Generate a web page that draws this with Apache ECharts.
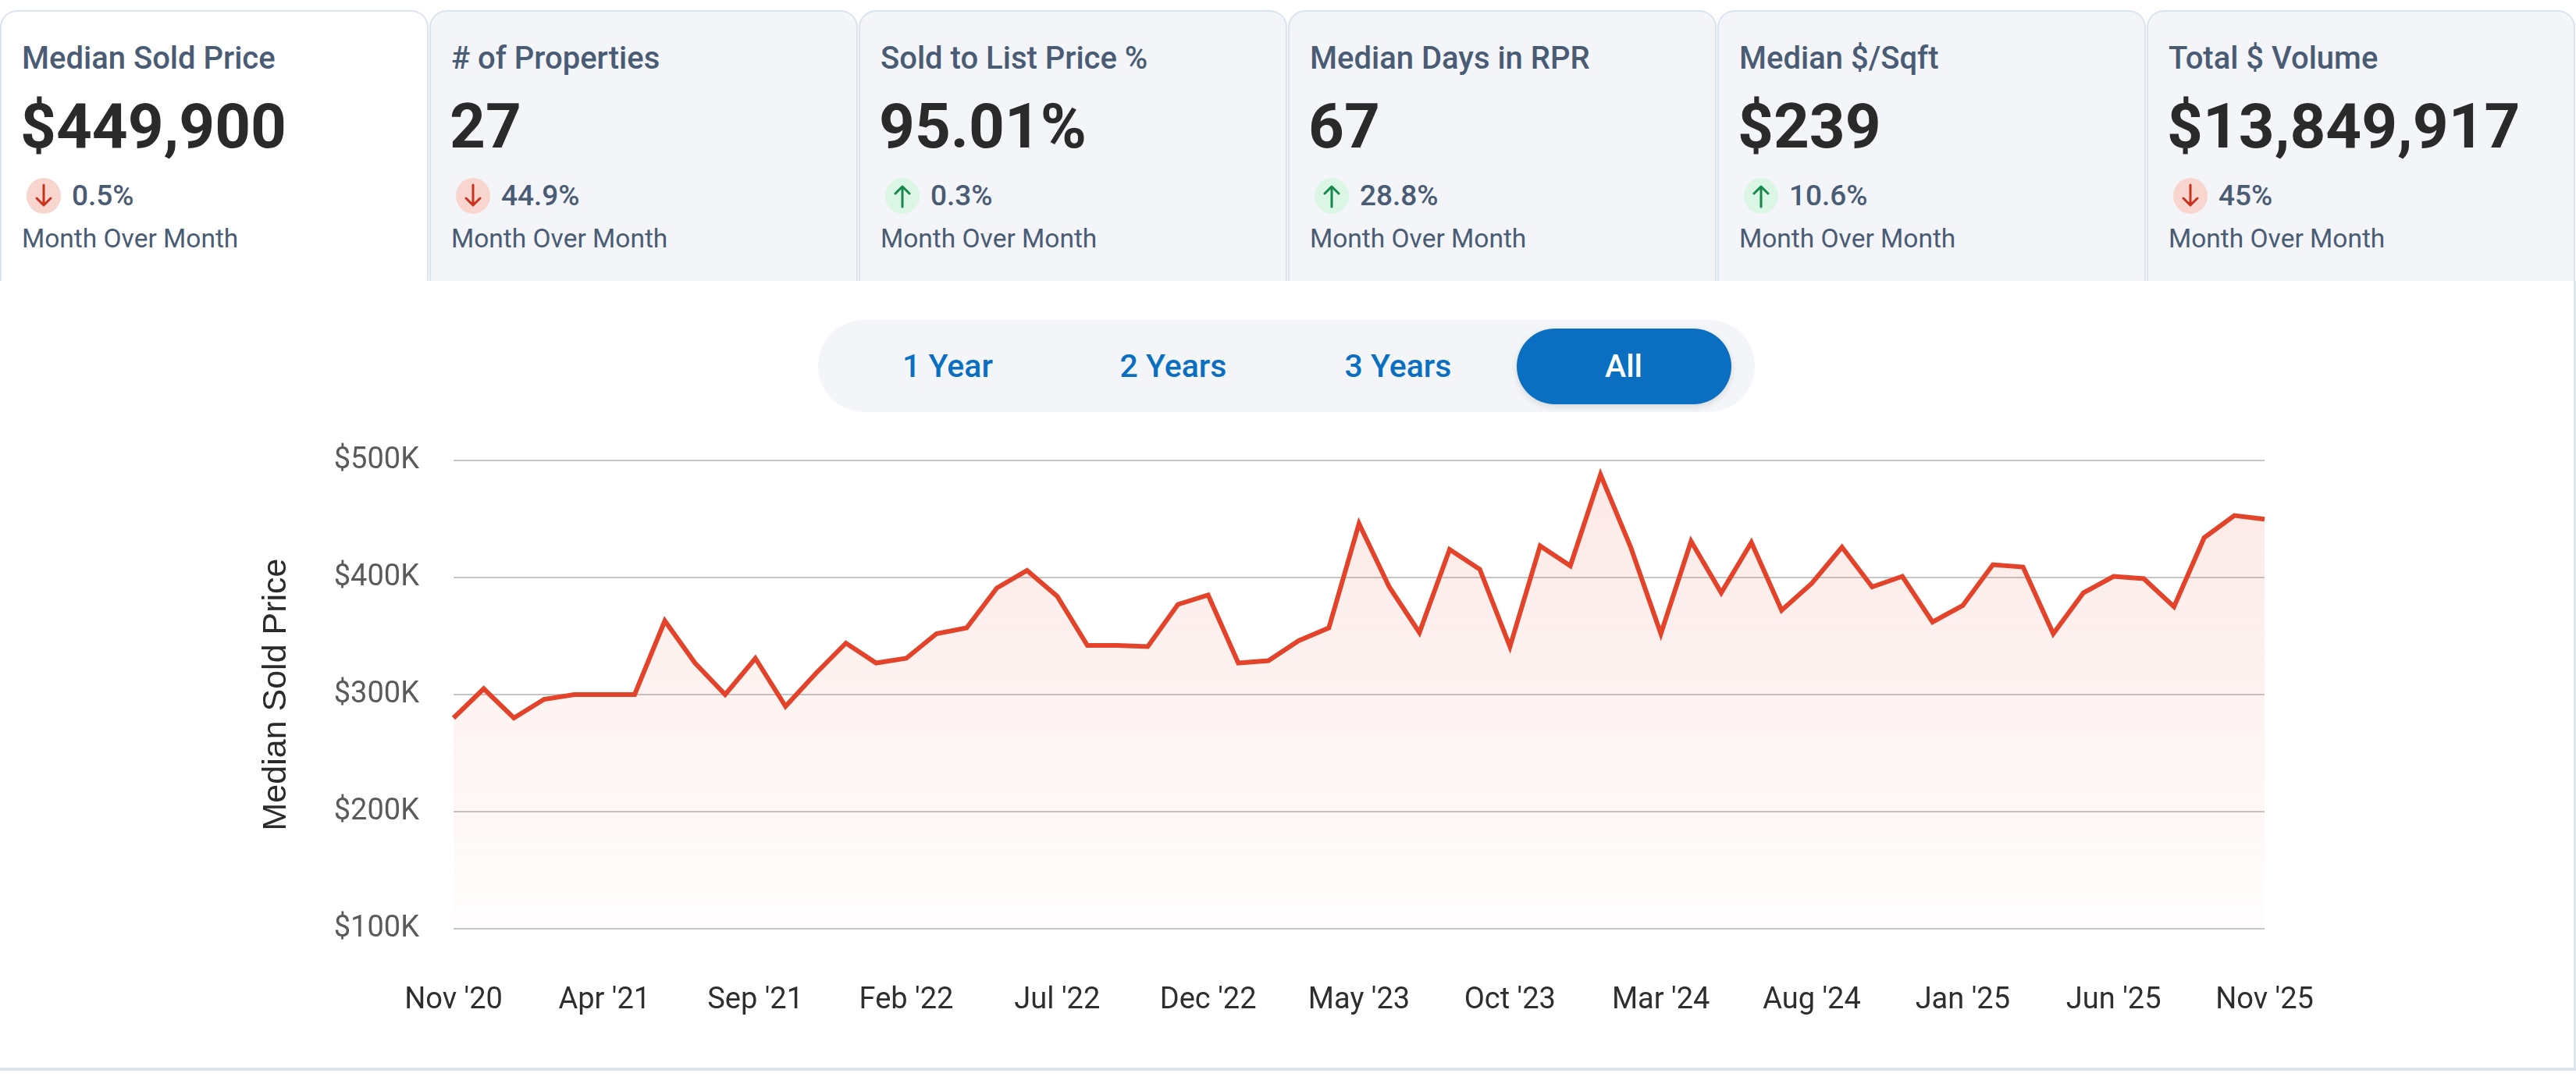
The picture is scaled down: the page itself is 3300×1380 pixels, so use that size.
<!DOCTYPE html>
<html>
<head>
<meta charset="utf-8">
<title>Median Sold Price</title>
<script src="https://cdn.jsdelivr.net/npm/echarts@6/dist/echarts.min.js"></script>
<style>
  html, body { margin: 0; padding: 0; background: #fff; }
  body { width: 3300px; height: 1380px; position: relative; overflow: hidden; font-family: Roboto, "Noto Sans", sans-serif; }
  .tab { position: absolute; top: 13px; height: 347px; width: 549px; box-sizing: border-box;
         border: 2px solid #dbe3ee; border-bottom: none; border-radius: 22px 22px 0 0; background: #f3f5f9; }
  .tab.active { background: #fff; }
  .tab .ttl { position: absolute; left: 26px; top: 40px; font-size: 40px; line-height: 40px; font-weight: 500; color: #4a5b74; white-space: nowrap; }
  .tab .big { position: absolute; left: 24px; top: 107px; font-size: 80px; line-height: 80px; font-weight: 700; color: #2a2a2a; white-space: nowrap; }
  .tab .ico { position: absolute; left: 32px; top: 213px; width: 44px; height: 46px; border-radius: 50%; }
  .tab .ico.dn { background: #f8d6cf; }
  .tab .ico.up { background: #dcf6e5; }
  .tab .ico svg { position: absolute; left: 0; top: 0; }
  .tab .pct { position: absolute; left: 90px; top: 217px; font-size: 37px; line-height: 37px; font-weight: 500; color: #4a5b74; white-space: nowrap; }
  .tab .mom { position: absolute; left: 26px; top: 274px; font-size: 33.5px; line-height: 34px; font-weight: 400; color: #4a5b74; white-space: nowrap; }
  #pill { position: absolute; left: 1048px; top: 410px; width: 1200px; height: 118px; border-radius: 59px; background: #f3f5f9; }
  #pill .opt { position: absolute; top: 0; height: 118px; line-height: 118px; font-size: 41px; font-weight: 500; color: #0b6fc1; text-align: center; width: 260px; }
  #pill .sel { position: absolute; left: 895px; top: 11px; width: 275px; height: 97px; border-radius: 49px; background: #0b6fc1; box-shadow: 0 3px 8px rgba(0,0,0,0.12); }
  #chart { position: absolute; left: 0; top: 540px; width: 3300px; height: 826px; }
  #edgeB { position: absolute; left: 0; top: 1368px; width: 3300px; height: 4px; background: #dde4ee; }
  #edgeR { position: absolute; left: 3297px; top: 360px; width: 3px; height: 1012px; background: #dde4ee; }
</style>
</head>
<body>
<div id="tabs"></div>
<div id="pill">
  <div class="sel"></div>
  <div class="opt" style="left:36px">1 Year</div>
  <div class="opt" style="left:325px">2 Years</div>
  <div class="opt" style="left:613px">3 Years</div>
  <div class="opt" style="left:902px;color:#fff">All</div>
</div>
<div id="chart"></div>
<div id="edgeB"></div>
<div id="edgeR"></div>
<script type="text/javascript">
// header cards
var cardTitles = ['Median Sold Price', '# of Properties', 'Sold to List Price %', 'Median Days in RPR', 'Median $/Sqft', 'Total $ Volume'];
var cardValues = ['$449,900', '27', '95.01%', '67', '$239', '$13,849,917'];
var cardChanges = ['0.5%', '44.9%', '0.3%', '28.8%', '10.6%', '45%'];
var cardDirections = ['dn', 'dn', 'up', 'up', 'up', 'dn'];

// chart data, Nov '20 .. Nov '25 (monthly)
var months = [
  "Nov '20", "Dec '20", "Jan '21", "Feb '21", "Mar '21", "Apr '21", "May '21", "Jun '21", "Jul '21", "Aug '21",
  "Sep '21", "Oct '21", "Nov '21", "Dec '21", "Jan '22", "Feb '22", "Mar '22", "Apr '22", "May '22", "Jun '22",
  "Jul '22", "Aug '22", "Sep '22", "Oct '22", "Nov '22", "Dec '22", "Jan '23", "Feb '23", "Mar '23", "Apr '23",
  "May '23", "Jun '23", "Jul '23", "Aug '23", "Sep '23", "Oct '23", "Nov '23", "Dec '23", "Jan '24", "Feb '24",
  "Mar '24", "Apr '24", "May '24", "Jun '24", "Jul '24", "Aug '24", "Sep '24", "Oct '24", "Nov '24", "Dec '24",
  "Jan '25", "Feb '25", "Mar '25", "Apr '25", "May '25", "Jun '25", "Jul '25", "Aug '25", "Sep '25", "Oct '25",
  "Nov '25"
];
var medianSoldPrice = [
  280000, 305000, 280000, 296000, 300000, 300000, 300000, 363000, 327000, 300000,
  331000, 290000, 318000, 344000, 327000, 331000, 352000, 357000, 391000, 406000,
  384000, 342000, 342000, 341000, 377000, 385000, 327000, 329000, 346000, 357000,
  446000, 392000, 353000, 424000, 407000, 341000, 427000, 410000, 488000, 426000,
  352000, 431000, 387000, 430000, 372000, 395000, 426000, 392000, 401000, 362000,
  376000, 411000, 409000, 352000, 387000, 401000, 399000, 375000, 434000, 453000,
  449900
];
var yTicks = { min: 100000, max: 500000, step: 100000 };

function arrowSvg(dir) {
  var col = dir === 'dn' ? '#c9321e' : '#15884a';
  var p = dir === 'dn'
    ? 'M22 9 L22 35 M13 26 L22 35 L31 26'
    : 'M22 37 L22 11 M13 20 L22 11 L31 20';
  return '<svg width="44" height="46" viewBox="0 0 44 46"><path d="' + p + '" fill="none" stroke="' + col +
    '" stroke-width="3" stroke-linecap="round" stroke-linejoin="round"/></svg>';
}

var html = '';
for (var i = 0; i < cardTitles.length; i++) {
  html += '<div class="tab' + (i === 0 ? ' active' : '') + '" style="left:' + (i * 550) + 'px">' +
    '<div class="ttl">' + cardTitles[i] + '</div>' +
    '<div class="big">' + cardValues[i] + '</div>' +
    '<div class="ico ' + cardDirections[i] + '">' + arrowSvg(cardDirections[i]) + '</div>' +
    '<div class="pct">' + cardChanges[i] + '</div>' +
    '<div class="mom">Month Over Month</div>' +
    '</div>';
}
document.getElementById('tabs').innerHTML = html;

var chart = echarts.init(document.getElementById('chart'), null, { renderer: 'canvas' });
chart.setOption({
  animation: false,
  grid: { left: 581, right: 399, top: 50, bottom: 176, containLabel: false },
  xAxis: {
    type: 'category',
    data: months,
    boundaryGap: false,
    axisLine: { show: false },
    axisTick: { show: false },
    splitLine: { show: false },
    axisLabel: {
      interval: 4,
      margin: 73,
      fontSize: 38,
      fontFamily: 'Roboto',
      color: '#2e2e2e'
    }
  },
  yAxis: {
    type: 'value',
    min: yTicks.min,
    max: yTicks.max,
    interval: yTicks.step,
    name: 'Median Sold Price',
    nameLocation: 'middle',
    nameRotate: 90,
    nameGap: 205,
    nameTextStyle: { fontSize: 43, fontFamily: 'Liberation Sans', color: '#2b2b2b' },
    axisLine: { show: false },
    axisTick: { show: false },
    splitLine: { lineStyle: { color: '#c6c6c6', width: 2 } },
    axisLabel: {
      margin: 44,
      fontSize: 38,
      fontFamily: 'Roboto',
      color: '#5a5a5a',
      formatter: function (v) { return '$' + (v / 1000) + 'K'; }
    }
  },
  series: [{
    type: 'line',
    data: medianSoldPrice,
    symbol: 'none',
    lineStyle: { color: '#e2432a', width: 6, join: 'miter' },
    areaStyle: {
      origin: 'start',
      color: new echarts.graphic.LinearGradient(0, 0, 0, 1, [
        { offset: 0, color: 'rgba(226,67,42,0.17)' },
        { offset: 1, color: 'rgba(226,67,42,0.01)' }
      ])
    }
  }]
});
</script>
</body>
</html>
